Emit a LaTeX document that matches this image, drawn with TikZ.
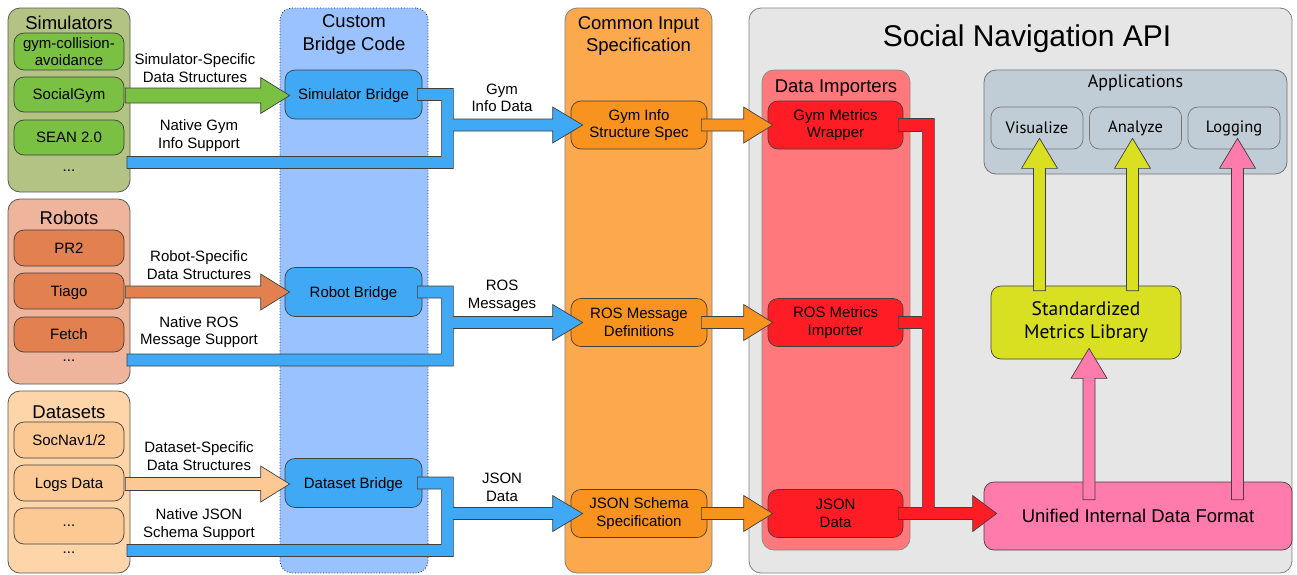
\documentclass[tikz,border=0pt]{standalone}
\usepackage{fontspec}
\setmainfont{Liberation Sans}
\newfontfamily\appfont{PT Sans}
\usetikzlibrary{calc}

\definecolor{simbg}{HTML}{B3C383}
\definecolor{simitem}{HTML}{7AC143}
\definecolor{robotbg}{HTML}{EEB59C}
\definecolor{robotitem}{HTML}{E2814F}
\definecolor{databg}{HTML}{FDD5A8}
\definecolor{dataitem}{HTML}{FCC995}
\definecolor{bridgebg}{HTML}{99C2FF}
\definecolor{bridgeblue}{HTML}{3FA9F5}
\definecolor{specbg}{HTML}{FBA94C}
\definecolor{specitem}{HTML}{F7931E}
\definecolor{apibg}{HTML}{E6E6E6}
\definecolor{importbg}{HTML}{FF787C}
\definecolor{importitem}{HTML}{FF1D25}
\definecolor{appbg}{HTML}{C1CDD6}
\definecolor{libyellow}{HTML}{D9E021}
\definecolor{unipink}{HTML}{FF7BAC}

\newcommand{\itemsize}{\fontsize{15}{17.5}\selectfont}
\newcommand{\titlesize}{\fontsize{18.5}{22.5}\selectfont}

% horizontal block arrow: [shaft half width] start, tip, colour
\newcommand{\harrow}[4][6pt]{%
  \draw[blockline,fill=#4] let \p1=(#2), \p2=(#3) in
    (\x1,\y1+#1) -- (\x2-29pt,\y1+#1) -- (\x2-29pt,\y1+18pt) -- (\x2,\y1)
    -- (\x2-29pt,\y1-18pt) -- (\x2-29pt,\y1-#1) -- (\x1,\y1-#1) -- cycle;}
% vertical block arrow: base, tip, colour
\newcommand{\varrow}[3]{%
  \draw[blockline,fill=#3] let \p1=(#1), \p2=(#2) in
    (\x2-6pt,\y1) -- (\x2-6pt,\y2-30pt) -- (\x2-18pt,\y2-30pt) -- (\x2,\y2)
    -- (\x2+18pt,\y2-30pt) -- (\x2+6pt,\y2-30pt) -- (\x2+6pt,\y1) -- cycle;}
% blue pipe: bridge, native start, spec
\newcommand{\bridgepipe}[3]{%
  \draw[blockline,fill=bridgeblue] let \p1=(#1.east), \p2=(#2), \p3=(#3.west) in
    (\x1-5pt,\y1+6pt) -- (\x1+31pt,\y1+6pt) -- (\x1+31pt,\y3+6pt)
    -- (\x3-18pt,\y3+6pt) -- (\x3-18pt,\y3+18pt) -- (\x3+12pt,\y3)
    -- (\x3-18pt,\y3-18pt) -- (\x3-18pt,\y3-6pt) -- (\x1+31pt,\y3-6pt)
    -- (\x1+31pt,\y2-6pt) -- (\x2,\y2-6pt) -- (\x2,\y2+6pt)
    -- (\x1+19pt,\y2+6pt) -- (\x1+19pt,\y1-6pt) -- (\x1-5pt,\y1-6pt) -- cycle;}

\begin{document}
\begin{tikzpicture}[x=1pt,y=-1pt,
    group/.style={draw=black!65,line width=0.8pt,rounded corners=12pt,inner sep=0pt},
    item/.style={draw=black!75,line width=0.7pt,rounded corners=10pt,inner sep=0pt,
      align=center,font=\itemsize},
    srcitem/.style={item,text depth=0pt,minimum width=110pt,minimum height=36pt},
    bridge/.style={item,text depth=0pt,fill=bridgeblue,minimum width=137pt,minimum height=49pt},
    spec/.style={item,fill=specitem,minimum width=136pt,minimum height=48pt},
    importer/.style={item,fill=importitem,minimum width=135pt,minimum height=48pt},
    app/.style={item,fill=appbg,draw=black!55,minimum width=92pt,minimum height=42pt,
      font=\appfont\fontsize{16.5}{19}\selectfont},
    title/.style={font=\titlesize,align=center,inner sep=0pt},
    lbl/.style={font=\itemsize,align=center,inner sep=0pt},
    blockline/.style={draw=black!75,line width=0.7pt,line join=miter}]
  \useasboundingbox[fill=white] (0,0) rectangle (1297,574);

  % the big API box and its parts
  \node[group,fill=apibg,draw=black!50,minimum width=543pt,minimum height=565pt] (api) at (1020.5,290.5) {};
  \node[font=\fontsize{30}{36}\selectfont,inner sep=0pt] (apititle) at (1027,39) {Social Navigation API};
  \node[group,fill=importbg,draw=black!45,minimum width=148pt,minimum height=480pt] (importers) at (836,310) {};
  \node[title] (imptitle) at (836,88) {Data Importers};
  \node[group,fill=appbg,draw=black!55,minimum width=303pt,minimum height=104pt] (apps) at (1135.5,122) {};
  \node[title,font=\appfont\fontsize{18}{21}\selectfont] (appstitle) at (1135.5,83) {Applications};

  % the columns
  \node[group,fill=bridgebg,draw=black!85,dotted,minimum width=148pt,minimum height=565pt] (bridgecol) at (354,290.5) {};
  \node[title] (bridgetitle) at (354,34.5) {Custom\\Bridge Code};
  \node[group,fill=specbg,draw=black!50,minimum width=147pt,minimum height=565pt] (speccol) at (638.5,290.5) {};
  \node[title] (spectitle) at (638.5,36) {Common Input\\Specification};

  % the sources
  \node[group,fill=simbg,minimum width=122pt,minimum height=184pt] (sims) at (69,100) {};
  \node[title] (simtitle) at (69,23) {Simulators};
  \node[group,fill=robotbg,minimum width=122pt,minimum height=185pt] (robots) at (69,291.5) {};
  \node[title] (robottitle) at (69,218) {Robots};
  \node[group,fill=databg,minimum width=122pt,minimum height=182pt] (datasets) at (69,482) {};
  \node[title] (datatitle) at (69,412) {Datasets};

  \node[srcitem,fill=simitem,minimum height=37pt] (gymca) at (69,51.5) {gym-collision-\\avoidance};
  \node[srcitem,fill=simitem,minimum height=35pt] (socialgym) at (69,94.5) {SocialGym};
  \node[srcitem,fill=simitem,minimum height=35pt] (sean) at (69,137.5) {SEAN 2.0};
  \node[lbl] (simdots) at (69,171) {...};
  \node[srcitem,fill=robotitem] (pr2) at (69,248) {PR2};
  \node[srcitem,fill=robotitem] (tiago) at (69,291) {Tiago};
  \node[srcitem,fill=robotitem,minimum height=35pt] (fetch) at (69,334.5) {Fetch};
  \node[lbl] (robotdots) at (69,361) {...};
  \node[srcitem,fill=dataitem] (socnav) at (69,440) {SocNav1/2};
  \node[srcitem,fill=dataitem] (logs) at (69,483) {Logs Data};
  \node[srcitem,fill=dataitem] (moredata) at (69,526) {...};
  \node[lbl] (datadots) at (69,553) {...};

  % bridges, specs and importers
  \node[bridge] (simbridge) at (353.5,94.5) {Simulator Bridge};
  \node[bridge] (robotbridge) at (353.5,292) {Robot Bridge};
  \node[bridge] (databridge) at (353.5,483) {Dataset Bridge};
  \node[spec] (gymspec) at (639,125) {Gym Info\\Structure Spec};
  \node[spec] (rosspec) at (639,322.5) {ROS Message\\Definitions};
  \node[spec] (jsonspec) at (639,513.5) {JSON Schema\\Specification};
  \node[importer] (gymimp) at (835.5,125) {Gym Metrics\\Wrapper};
  \node[importer] (rosimp) at (835.5,322.5) {ROS Metrics\\Importer};
  \node[importer] (jsonimp) at (835.5,513.5) {JSON\\Data};

  % applications and library
  \node[app] (visualize) at (1037,128) {Visualize};
  \node[app] (analyze) at (1135.5,128) {Analyze};
  \node[app] (logging) at (1234,128) {Logging};
  \node[item,fill=libyellow,minimum width=190pt,minimum height=73pt,
    font=\appfont\fontsize{19.5}{23}\selectfont] (stdlib) at (1086,322.5) {Standardized\\Metrics Library};
  \node[item,fill=unipink,minimum width=308pt,minimum height=68pt,
    font=\fontsize{18.5}{22}\selectfont] (unified) at (1138,516) {Unified Internal Data Format};

  % source specific arrows
  \harrow[7.5pt]{$(socialgym.east)+(1,1)$}{$(simbridge.west)+(5,1)$}{simitem}
  \harrow{$(tiago.east)+(1,1)$}{$(robotbridge.west)+(5,0)$}{robotitem}
  \harrow[6.5pt]{$(logs.east)+(1,1)$}{$(databridge.west)+(5,0)$}{dataitem}
  \node[lbl] (simlbl) at (195,68) {Simulator-Specific\\Data Structures};
  \node[lbl] (robotlbl) at (199,265) {Robot-Specific\\Data Structures};
  \node[lbl] (datalbl) at (199,456) {Dataset-Specific\\Data Structures};

  % native support pipes
  \coordinate (gymnative) at (127,162.5);
  \coordinate (rosnative) at (127,360);
  \coordinate (jsonnative) at (127,550.5);
  \bridgepipe{simbridge}{gymnative}{gymspec}
  \bridgepipe{robotbridge}{rosnative}{rosspec}
  \bridgepipe{databridge}{jsonnative}{jsonspec}
  \node[lbl] (gymnatlbl) at (199,135.5) {Native Gym\\Info Support};
  \node[lbl] (rosnatlbl) at (199,332) {Native ROS\\Message Support};
  \node[lbl] (jsonnatlbl) at (199,524.5) {Native JSON\\Schema Support};
  \node[lbl] (gymoutlbl) at (502,98) {Gym\\Info Data};
  \node[lbl] (rosoutlbl) at (502,296) {ROS\\Messages};
  \node[lbl] (jsonoutlbl) at (502,487.5) {JSON\\Data};

  % spec to importer
  \harrow{$(gymspec.east)+(-6,0)$}{$(gymimp.west)+(5,0)$}{specitem}
  \harrow{$(rosspec.east)+(-6,0)$}{$(rosimp.west)+(5,0)$}{specitem}
  \harrow{$(jsonspec.east)+(-6,0)$}{$(jsonimp.west)+(5,0)$}{specitem}

  % importers into the internal format
  \draw[blockline,fill=importitem] let \p1=(gymimp.east), \p2=(rosimp.east), \p3=(jsonimp.east), \p4=(unified.west) in
    (\x1-5pt,\y1+6.5pt) -- (\x1+31pt,\y1+6.5pt) -- (\x1+31pt,\y3+6pt)
    -- (\x4-11pt,\y3+6pt) -- (\x4-11pt,\y3+18pt) -- (\x4+13pt,\y3)
    -- (\x4-11pt,\y3-18pt) -- (\x4-11pt,\y3-6pt) -- (\x3-5pt,\y3-6pt)
    -- (\x3-5pt,\y3+6pt) -- (\x1+19pt,\y3+6pt) -- (\x1+19pt,\y2-6pt)
    -- (\x2-5pt,\y2-6pt) -- (\x2-5pt,\y2+6pt) -- (\x1+19pt,\y2+6pt)
    -- (\x1+19pt,\y1-6.5pt) -- (\x1-5pt,\y1-6.5pt) -- cycle;

  % library and format to applications
  \varrow{$(stdlib.north)+(0,5)$}{$(visualize.south)+(2.5,-11)$}{libyellow}
  \varrow{$(stdlib.north)+(0,5)$}{$(analyze.south)+(-3,-11)$}{libyellow}
  \varrow{$(unified.north)+(0,18)$}{$(logging.south)+(3.5,-11)$}{unipink}
  \varrow{$(unified.north)+(0,18)$}{$(stdlib.south)+(3,-11)$}{unipink}
\end{tikzpicture}
\end{document}
